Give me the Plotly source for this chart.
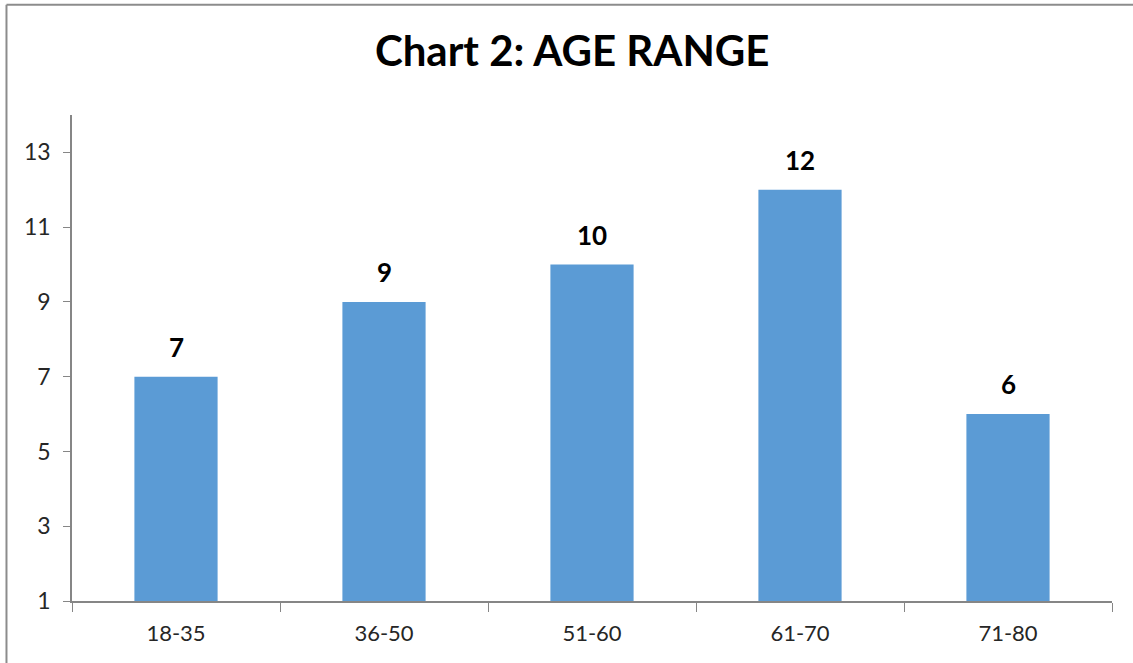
import plotly.graph_objects as go

# Survey respondents by age group
age_groups = ["18-35", "36-50", "51-60", "61-70", "71-80"]
counts = [7, 9, 10, 12, 6]
y_ticks = [1, 3, 5, 7, 9, 11, 13]

BAR_COLOR = "#5B9BD5"
AXIS_COLOR = "#868686"
FONT = "Lato"

fig = go.Figure(
    go.Bar(
        x=age_groups,
        y=counts,
        marker=dict(color=BAR_COLOR, line=dict(width=0)),
        hoverinfo="x+y",
    )
)

# Value labels above each bar
for g, c in zip(age_groups, counts):
    fig.add_annotation(
        x=g, y=c, text=f"<b>{c}</b>", showarrow=False,
        yanchor="bottom", yshift=12,
        font=dict(family=FONT, size=26, color="#000000"),
    )

# Chart frame (top and left edges)
fig.add_shape(type="line", xref="paper", yref="paper",
              x0=-0.063, x1=1.05, y0=1.227, y1=1.227,
              line=dict(color="#8c8c8c", width=2))
fig.add_shape(type="line", xref="paper", yref="paper",
              x0=-0.063, x1=-0.063, y0=1.227, y1=-0.2,
              line=dict(color="#8c8c8c", width=2))

fig.update_layout(
    width=1133,
    height=663,
    margin=dict(l=72, r=21, t=115, b=62),
    paper_bgcolor="#ffffff",
    plot_bgcolor="#ffffff",
    bargap=0.6,
    showlegend=False,
    title=dict(
        text="<b>Chart 2: AGE RANGE</b>",
        x=0.505, xanchor="center",
        y=0.922, yanchor="middle",
        font=dict(family=FONT, size=42, color="#000000"),
    ),
    font=dict(family=FONT, color="#262626"),
)

fig.update_xaxes(
    showline=True, linecolor=AXIS_COLOR, linewidth=1.5,
    ticks="outside", tickson="boundaries", ticklen=9, tickcolor=AXIS_COLOR,
    tickfont=dict(family=FONT, size=22, color="#262626"),
    ticklabelstandoff=12,
    showgrid=False, zeroline=False,
)
fig.update_yaxes(
    range=[1, 14], tickvals=y_ticks,
    showline=True, linecolor=AXIS_COLOR, linewidth=1.5,
    ticks="outside", ticklen=7, tickcolor=AXIS_COLOR,
    tickfont=dict(family=FONT, size=23, color="#262626"),
    ticklabelstandoff=8,
    showgrid=False, zeroline=False,
)

fig.write_html("out.html")
